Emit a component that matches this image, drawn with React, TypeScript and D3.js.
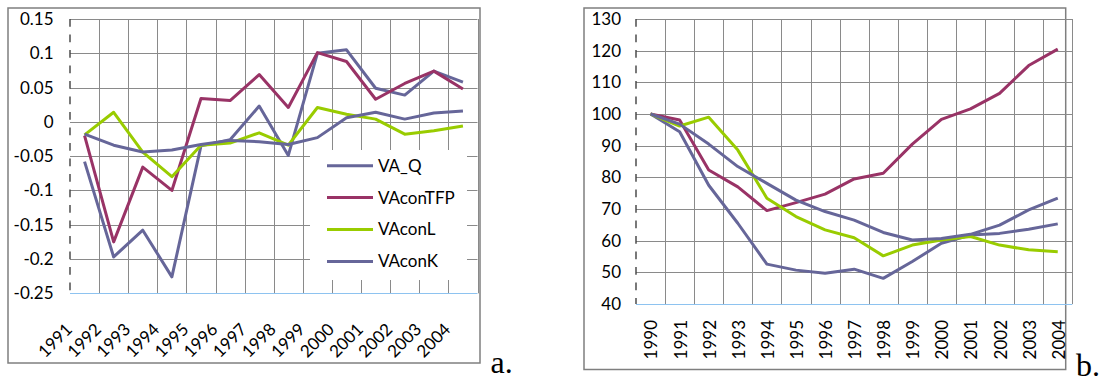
import React, {useEffect, useRef} from 'react';
import * as d3 from 'd3';

// chart a: yearly growth rates
const yearsA = ['1991', '1992', '1993', '1994', '1995', '1996', '1997', '1998', '1999', '2000', '2001', '2002', '2003', '2004'];
const vaQA = [-0.058, -0.197, -0.158, -0.226, -0.035, -0.026, 0.023, -0.049, 0.1, 0.105, 0.049, 0.039, 0.074, 0.058];
const tfpA = [-0.02, -0.175, -0.066, -0.1, 0.034, 0.031, 0.069, 0.021, 0.101, 0.088, 0.033, 0.056, 0.074, 0.048];
const labA = [-0.019, 0.014, -0.044, -0.08, -0.034, -0.031, -0.016, -0.034, 0.021, 0.011, 0.004, -0.018, -0.013, -0.006];
const capA = [-0.018, -0.034, -0.044, -0.041, -0.033, -0.027, -0.029, -0.033, -0.023, 0.006, 0.014, 0.004, 0.013, 0.016];
const ticksA = [-0.25, -0.2, -0.15, -0.1, -0.05, 0, 0.05, 0.1, 0.15];

// chart b: index, 1990 = 100
const yearsB = ['1990', '1991', '1992', '1993', '1994', '1995', '1996', '1997', '1998', '1999', '2000', '2001', '2002', '2003', '2004'];
const vaQB = [100, 94.4, 77.5, 65.5, 52.6, 50.7, 49.7, 51.0, 48.1, 53.4, 59.2, 61.8, 62.3, 63.6, 65.3];
const tfpB = [100, 98.1, 82.3, 77.0, 69.5, 72.0, 74.7, 79.5, 81.3, 90.5, 98.3, 101.6, 106.5, 115.3, 120.5];
const labB = [100, 96.2, 99.0, 88.6, 73.4, 67.6, 63.4, 60.9, 55.2, 58.6, 60.2, 61.3, 58.6, 57.1, 56.5];
const capB = [100, 96.8, 90.5, 83.4, 78.1, 72.8, 69.2, 66.5, 62.6, 60.2, 60.7, 62.0, 64.9, 69.7, 73.4];
const ticksB = [40, 50, 60, 70, 80, 90, 100, 110, 120, 130];

const seriesNames = ['VA_Q', 'VAconTFP', 'VAconL', 'VAconK'];
const seriesColors = ['#666699', '#993366', '#99CC00', '#666699'];

const FONT = 'Lato, "Noto Sans", sans-serif';

interface PanelCfg {
  box: [number, number, number, number]; // x0, y0, x1, y1
  plot: [number, number, number, number];
  years: string[];
  series: number[][];
  ticks: number[];
  tickRight: number;
  rotate: number;
  tag: string;
  tagPos: [number, number];
  legend?: boolean;
}

function drawPanel(svg: d3.Selection<SVGSVGElement, unknown, null, undefined>, cfg: PanelCfg) {
  const [bx0, by0, bx1, by1] = cfg.box;
  const [px0, py0, px1, py1] = cfg.plot;
  const g = svg.append('g');

  g.append('rect')
    .attr('x', bx0).attr('y', by0)
    .attr('width', bx1 - bx0).attr('height', by1 - by0)
    .attr('fill', 'white').attr('stroke', '#7f7f7f').attr('stroke-width', 1.5);

  const x = d3.scaleBand<string>().domain(cfg.years).range([px0, px1]).padding(0);
  const y = d3.scaleLinear()
    .domain([cfg.ticks[0], cfg.ticks[cfg.ticks.length - 1]])
    .range([py1, py0]);

  // grid
  const grid = g.append('g').attr('stroke', '#8a8a8a').attr('stroke-width', 1);
  grid.selectAll('line.h')
    .data(cfg.ticks.slice(1))
    .join('line')
    .attr('x1', px0).attr('x2', px1)
    .attr('y1', (d) => Math.round(y(d)) + 0.5).attr('y2', (d) => Math.round(y(d)) + 0.5);
  const bounds = cfg.years.map((d) => x(d)!).slice(1).concat([px1]);
  grid.selectAll('line.v')
    .data(bounds)
    .join('line')
    .attr('x1', (d) => Math.round(d) + 0.5).attr('x2', (d) => Math.round(d) + 0.5)
    .attr('y1', py0).attr('y2', py1);

  // axes
  g.append('line')
    .attr('x1', px0).attr('x2', px1)
    .attr('y1', Math.round(py1) + 0.5).attr('y2', Math.round(py1) + 0.5)
    .attr('stroke', '#8ec3f0').attr('stroke-width', 1);
  g.append('line')
    .attr('x1', px0).attr('x2', px0)
    .attr('y1', py0).attr('y2', py1)
    .attr('stroke', '#404040').attr('stroke-width', 1.4)
    .attr('stroke-dasharray', '7.7,7.8');

  g.append('g')
    .selectAll('text')
    .data(cfg.ticks)
    .join('text')
    .attr('x', cfg.tickRight)
    .attr('y', (d) => y(d))
    .attr('dy', '0.35em')
    .attr('text-anchor', 'end')
    .style('font', `17px ${FONT}`)
    .text((d) => String(+d.toFixed(2)));

  g.append('g')
    .selectAll('text')
    .data(cfg.years)
    .join('text')
    .attr('transform', (d) =>
      cfg.rotate === -90
        ? `translate(${x(d)! + x.bandwidth() / 2 + 1},${py1 + 16}) rotate(-90)`
        : `translate(${x(d)! - 1},${py1 + 33}) rotate(-45)`
    )
    .attr('dy', '0.35em')
    .attr('text-anchor', 'end')
    .style('font', `17px ${FONT}`)
    .text((d) => d);

  const line = d3.line<number>()
    .x((_, i) => x(cfg.years[i])! + x.bandwidth() / 2)
    .y((d) => y(d));

  g.append('g')
    .selectAll('path')
    .data(cfg.series)
    .join('path')
    .attr('d', (d) => line(d))
    .attr('fill', 'none')
    .attr('stroke', (_, i) => seriesColors[i])
    .attr('stroke-width', 3)
    .attr('stroke-linejoin', 'round');

  if (cfg.legend) {
    const lg = g.append('g');
    lg.append('rect')
      .attr('x', 310).attr('y', 150).attr('width', 157).attr('height', 130)
      .attr('fill', 'white');
    const rows = lg.selectAll('g')
      .data(seriesNames)
      .join('g')
      .attr('transform', (_, i) => `translate(0,${165.7 + i * 31.9})`);
    rows.append('line')
      .attr('x1', 327).attr('x2', 373)
      .attr('stroke', (_, i) => seriesColors[i])
      .attr('stroke-width', 3);
    rows.append('text')
      .attr('x', 378)
      .attr('dy', '0.35em')
      .style('font', `17px ${FONT}`)
      .text((d) => d);
  }

  g.append('text')
    .attr('x', cfg.tagPos[0]).attr('y', cfg.tagPos[1])
    .style('font', '32px "Liberation Serif", "DejaVu Serif", serif')
    .text(cfg.tag);
}

const App: React.FC = () => {
  const ref = useRef<SVGSVGElement | null>(null);

  useEffect(() => {
    if (!ref.current) return;
    const svg = d3.select(ref.current);
    svg.selectAll('*').remove();

    drawPanel(svg, {
      box: [8, 8, 480, 363],
      plot: [70, 19, 477.5, 293.3],
      years: yearsA,
      series: [vaQA, tfpA, labA, capA],
      ticks: ticksA,
      tickRight: 53.5,
      rotate: -45,
      tag: 'a.',
      tagPos: [490.5, 372.5],
      legend: true,
    });

    drawPanel(svg, {
      box: [584, 8, 1065.7, 369.5],
      plot: [636, 19, 1072.3, 304],
      years: yearsB,
      series: [vaQB, tfpB, labB, capB],
      ticks: ticksB,
      tickRight: 621,
      rotate: -90,
      tag: 'b.',
      tagPos: [1076, 375.5],
    });
  }, []);

  return (
    <svg
      ref={ref}
      width={1099}
      height={381}
      style={{position: 'absolute', left: 0, top: 0, display: 'block', background: 'white'}}
    />
  );
};

export default App;
